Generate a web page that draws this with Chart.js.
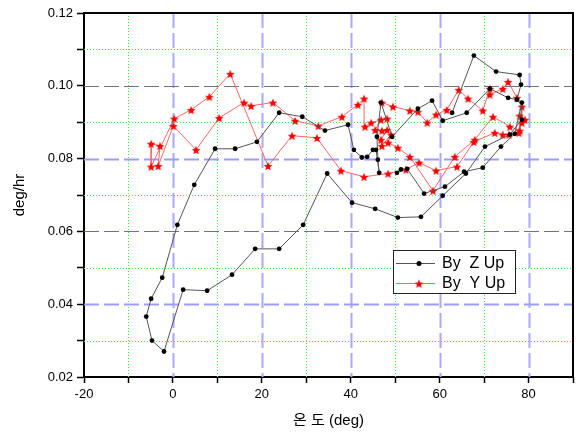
<!DOCTYPE html>
<html>
<head>
<meta charset="utf-8">
<script src="https://cdn.jsdelivr.net/npm/chart.js@4"></script>
<style>
  html, body { margin: 0; padding: 0; background: #fff; }
  #wrap { width: 581px; height: 434px; }
</style>
</head>
<body>
<div id="wrap"><canvas id="chart" width="581" height="434"></canvas></div>
<script>
// ---- data ----
const zUpTemp = [62.8, 67.7, 72.7, 78.0, 78.3, 77.4, 75.4, 71.3, 66.1, 60.7, 58.3, 55.1, 49.3, 46.8, 45.9,
  46.1, 46.4, 45.7, 45.0, 43.7, 42.5, 40.7, 39.4, 34.2, 29.1, 23.9, 18.9, 14.0, 9.5, 4.8, 1.0, -2.4,
  -4.9, -6.0, -4.7, -2.0, 2.3, 7.7, 13.3, 18.5, 23.9, 29.3, 34.7, 40.3, 45.5, 50.6, 55.8, 60.7, 65.9,
  70.2, 75.8, 78.5, 78.5, 76.9, 73.8, 69.7, 65.5, 61.2, 56.5, 52.7, 51.3, 50.4];
const zUpRate = [0.0926, 0.1083, 0.1039, 0.1030, 0.1003, 0.0962, 0.0967, 0.0992, 0.0926, 0.0904, 0.0959,
  0.0937, 0.0860, 0.0954, 0.0860, 0.0797, 0.0761, 0.0824, 0.0824, 0.0805, 0.0803, 0.0824, 0.0893,
  0.0877, 0.0915, 0.0926, 0.0846, 0.0827, 0.0827, 0.0728, 0.0618, 0.0473, 0.0415, 0.0366, 0.0300,
  0.0270, 0.0440, 0.0437, 0.0481, 0.0552, 0.0552, 0.0618, 0.0759, 0.0679, 0.0662, 0.0638, 0.0640,
  0.0698, 0.0759, 0.0833, 0.0866, 0.0907, 0.0954, 0.0868, 0.0833, 0.0775, 0.0764, 0.0723, 0.0704,
  0.0772, 0.0770, 0.0761];

const yUpTemp = [78.0, 79.2, 78.5, 78.0, 75.8, 72.0, 67.9, 63.4, 58.5, 53.3, 50.6, 48.4, 49.1, 47.0, 46.8,
  48.2, 47.0, 45.5, 46.8, 48.2, 44.6, 43.2, 43.0, 41.6, 38.0, 32.7, 27.5, 22.5, 17.6, 16.0, 10.4, 5.2,
  0.1, -3.3, -2.9, -4.9, -4.9, 0.3, 4.1, 8.2, 12.9, 21.4, 26.8, 32.4, 37.8, 43.0, 48.4, 52.4, 55.4,
  59.2, 63.9, 67.7, 72.4, 74.2, 75.6, 77.8, 78.5, 77.4, 75.4, 74.2, 71.3, 71.3, 69.7, 66.4, 64.3,
  61.6, 59.2, 57.2, 55.1, 53.3, 49.5, 47.0];
const yUpRate = [0.0918, 0.0907, 0.0899, 0.0877, 0.0888, 0.0915, 0.0852, 0.0805, 0.0712, 0.0805, 0.0830,
  0.0844, 0.0866, 0.0835, 0.0852, 0.0879, 0.0877, 0.0879, 0.0907, 0.0910, 0.0899, 0.0888, 0.0965,
  0.0948, 0.0915, 0.0890, 0.0904, 0.0954, 0.0945, 0.0954, 0.0912, 0.0824, 0.0890, 0.0780, 0.0835,
  0.0841, 0.0778, 0.0910, 0.0934, 0.0970, 0.1033, 0.0780, 0.0863, 0.0857, 0.0767, 0.0750, 0.0759,
  0.0770, 0.0789, 0.0767, 0.0778, 0.0846, 0.0871, 0.0866, 0.0866, 0.0871, 0.0943, 0.0967, 0.1011,
  0.0992, 0.0976, 0.0992, 0.0932, 0.0965, 0.0989, 0.0934, 0.0921, 0.0899, 0.0929, 0.0932, 0.0943,
  0.0954];

const seriesNames = ['By  Z Up', 'By  Y Up'];
const xLabelTicks = [-20, 0, 20, 40, 60, 80];
const yLabelTicks = [0.02, 0.04, 0.06, 0.08, 0.10, 0.12];

const FONT = "'Liberation Sans', Arial, 'Noto Sans CJK KR', sans-serif";

// filled red star used as point marker
function makeStar(r, color) {
  const c = document.createElement('canvas');
  c.width = c.height = Math.ceil(r * 2 + 2);
  const g = c.getContext('2d');
  g.beginPath();
  for (let i = 0; i < 10; i++) {
    const rad = i % 2 ? r * 0.45 : r;
    const a = -Math.PI / 2 + i * Math.PI / 5;
    g.lineTo(c.width / 2 + rad * Math.cos(a), c.height / 2 + 0.6 + rad * Math.sin(a));
  }
  g.closePath();
  g.fillStyle = color;
  g.fill();
  return c;
}
const starImg = makeStar(4.6, '#ff0000');

const isLabelTick = (list, v) => list.some(t => Math.abs(t - v) < 1e-9);

// grid lines: dashed on labelled ticks, green dotted between
const gridPlugin = {
  id: 'customGrid',
  beforeDatasetsDraw(chart) {
    const { ctx, chartArea: a, scales: { x, y } } = chart;
    ctx.save();
    x.ticks.forEach(t => {
      const px = Math.round(x.getPixelForValue(t.value));
      if (px <= a.left + 1 || px >= a.right - 1) return;
      ctx.beginPath();
      if (isLabelTick(xLabelTicks, t.value)) {
        ctx.strokeStyle = '#a8a8ff'; ctx.lineWidth = 2; ctx.setLineDash([15, 5]);
      } else {
        ctx.strokeStyle = '#44ee44'; ctx.lineWidth = 1; ctx.setLineDash([1, 2]);
      }
      ctx.moveTo(px + 0.5, a.top); ctx.lineTo(px + 0.5, a.bottom);
      ctx.stroke();
    });
    y.ticks.forEach((t) => {
      const py = Math.round(y.getPixelForValue(t.value));
      if (py <= a.top + 1 || py >= a.bottom - 1) return;
      ctx.beginPath();
      if (isLabelTick(yLabelTicks, t.value)) {
        const k = Math.round(t.value * 100);
        if (k % 4 === 0) {
          ctx.strokeStyle = '#9c9cff'; ctx.lineWidth = 2;
        } else {
          ctx.strokeStyle = '#70708a'; ctx.lineWidth = 1;
        }
        ctx.setLineDash([15, 5]);
      } else {
        ctx.strokeStyle = '#44ee44'; ctx.lineWidth = 1; ctx.setLineDash([1, 2]);
      }
      ctx.moveTo(a.left, py + 0.5); ctx.lineTo(a.right, py + 0.5);
      ctx.stroke();
    });
    ctx.restore();
  },
  afterDraw(chart) {
    const { ctx, chartArea: a } = chart;
    ctx.save();
    // top + right frame
    ctx.strokeStyle = '#000'; ctx.lineWidth = 2; ctx.setLineDash([]);
    ctx.beginPath();
    ctx.moveTo(a.left, a.top); ctx.lineTo(a.right, a.top); ctx.lineTo(a.right, a.bottom);
    ctx.stroke();

    // legend box
    const bx = 393, by = 250, bw = 122, bh = 43;
    ctx.fillStyle = '#fff';
    ctx.fillRect(bx, by, bw, bh);
    ctx.strokeStyle = '#222'; ctx.lineWidth = 1;
    ctx.strokeRect(bx + 0.5, by + 0.5, bw, bh);
    chart.data.datasets.forEach((ds, i) => {
      const ly = by + 13 + i * 20;
      ctx.beginPath();
      ctx.strokeStyle = ds.borderColor; ctx.lineWidth = 1;
      ctx.moveTo(bx + 3, ly + 0.5); ctx.lineTo(bx + 42, ly + 0.5);
      ctx.stroke();
      if (i === 0) {
        ctx.beginPath(); ctx.fillStyle = '#000';
        ctx.arc(bx + 26, ly + 0.5, 2.5, 0, Math.PI * 2); ctx.fill();
      } else {
        ctx.drawImage(starImg, bx + 26 - starImg.width / 2, ly + 0.5 - starImg.height / 2);
      }
      ctx.fillStyle = '#000';
      ctx.font = '16px ' + FONT;
      ctx.textBaseline = 'middle';
      ctx.fillText(ds.label, bx + 49, ly + 1);
    });
    ctx.restore();
  }
};

const toPoints = (xs, ys) => xs.map((v, i) => ({ x: v, y: ys[i] }));

new Chart(document.getElementById('chart'), {
  type: 'line',
  data: {
    datasets: [
      {
        label: seriesNames[0],
        data: toPoints(zUpTemp, zUpRate),
        borderColor: '#555555',
        borderWidth: 1,
        pointStyle: 'circle',
        pointRadius: 2.4,
        pointBackgroundColor: '#000',
        pointBorderColor: '#000',
        pointBorderWidth: 0,
        tension: 0
      },
      {
        label: seriesNames[1],
        data: toPoints(yUpTemp, yUpRate),
        borderColor: '#ff6666',
        borderWidth: 1,
        pointStyle: starImg,
        pointRadius: 4,
        tension: 0
      }
    ]
  },
  options: {
    responsive: false,
    animation: false,
    events: [],
    layout: { padding: { top: 13, right: 8, left: 0, bottom: 0 } },
    plugins: { legend: { display: false }, tooltip: { enabled: false } },
    scales: {
      x: {
        type: 'linear',
        min: -20, max: 90,
        ticks: {
          stepSize: 10, autoSkip: false, maxRotation: 0, padding: 4,
          color: '#000', font: { family: FONT, size: 13 },
          callback: v => isLabelTick(xLabelTicks, v) ? String(v) : ''
        },
        grid: { drawOnChartArea: false, drawTicks: true, tickLength: 6, tickColor: '#000', tickWidth: 1.5 },
        border: { color: '#000', width: 2 },
        title: { display: true, text: '온 도 (deg)', color: '#000', font: { family: FONT, size: 15 }, padding: { top: 2, bottom: 4 } },
        afterFit(s) { s.height = 57; }
      },
      y: {
        type: 'linear',
        min: 0.02, max: 0.12,
        ticks: {
          stepSize: 0.01, autoSkip: false, padding: 4,
          color: '#000', font: { family: FONT, size: 13 },
          callback: v => isLabelTick(yLabelTicks, v) ? v.toFixed(2) : ''
        },
        grid: { drawOnChartArea: false, drawTicks: true, tickLength: 7, tickColor: '#000', tickWidth: 1.5 },
        border: { color: '#000', width: 2 },
        title: { display: true, text: 'deg/hr', color: '#000', font: { family: FONT, size: 15 }, padding: { top: 11, bottom: 0 } },
        afterFit(s) { s.width = 84; }
      }
    }
  },
  plugins: [gridPlugin]
});
</script>
</body>
</html>
